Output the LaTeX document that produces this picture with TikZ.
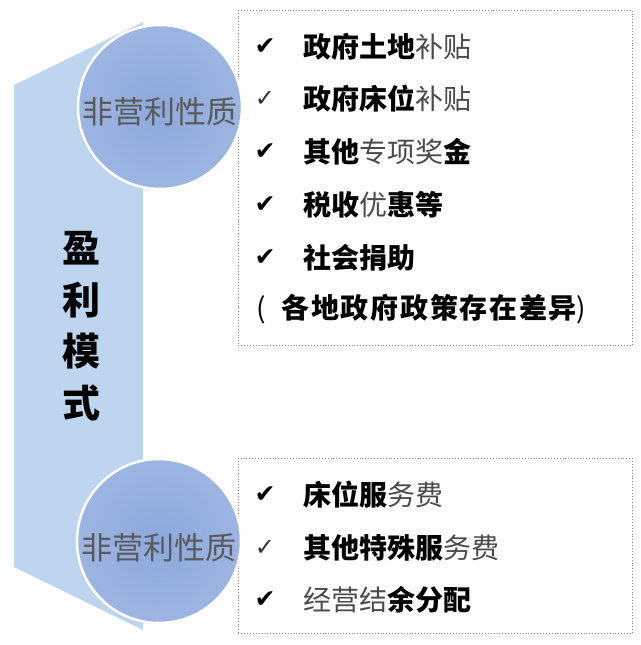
\documentclass[tikz,border=0pt]{standalone}
\usepackage{fontspec}
\newfontfamily\cjk{Noto Sans CJK SC}
\newfontfamily\sym{DejaVu Sans}
\definecolor{bandblue}{HTML}{BDD5EE}
\definecolor{ballblue}{HTML}{8CA8DB}
\definecolor{ballrim}{HTML}{9DB5E2}
\definecolor{ltext}{HTML}{5A5A5A}
\definecolor{itemgray}{HTML}{4A4A4A}
\newcommand\lite[1]{{\mdseries\color{itemgray}#1}}
\tikzset{
  band/.style={fill=bandblue},
  ball/.style={circle, minimum size=164pt, inner sep=0pt, draw=white, line width=2.5pt,
    inner color=ballblue, outer color=ballrim},
  balltext/.style={font=\cjk\fontsize{31}{31}\selectfont, text=ltext, inner sep=0pt},
  bigchar/.style={font=\cjk\bfseries\fontsize{38}{38}\selectfont, inner sep=0pt},
  dbox/.style={draw=gray, dotted, line width=0.9pt, anchor=north west, inner sep=0pt},
  chk/.style={font=\sym\fontsize{25}{25}\selectfont, inner sep=0pt},
  chkthin/.style={font=\sym\fontsize{24}{24}\selectfont, text=black!80, inner sep=0pt},
  item/.style={font=\cjk\bfseries\fontsize{28}{28}\selectfont, anchor=west, inner sep=0pt},
}
\begin{document}
\begin{tikzpicture}[x=1pt,y=-1pt]
\useasboundingbox (0,0) rectangle (640,645);
\fill[white] (0,0) rectangle (640,645);
% band
\fill[band] (14,85) -- (143,22) -- (143,630) -- (14,567) -- cycle;
% boxes
\node[dbox, minimum width=394pt, minimum height=335pt] (box1) at (238,10) {};
\node[dbox, minimum width=394pt, minimum height=175pt] (box2) at (238,458) {};
% balls
\node[ball] (ball1) at (160,107) {};
\node[ball] (ball2) at (159,541) {};
\node[balltext] (bt1) at (160,112) {非营利性质};
\node[balltext] (bt2) at (159,548) {非营利性质};
% vertical title
\node[bigchar] (m1) at (81,248) {盈};
\node[bigchar] (m2) at (81,300) {利};
\node[bigchar] (m3) at (81,351) {模};
\node[bigchar] (m4) at (81,403) {式};
% top items
\node[chk] (k1) at (265,47) {✔};
\node[chkthin] (k2) at (265,99) {✓};
\node[chk] (k3) at (265,152) {✔};
\node[chk] (k4) at (265,205) {✔};
\node[chk] (k5) at (265,258) {✔};
\node[item] (i1) at (303,47) {政府土地\lite{补贴}};
\node[item] (i2) at (303,99) {政府床位\lite{补贴}};
\node[item] (i3) at (303,152) {其他\lite{专项奖}金};
\node[item] (i4) at (303,205) {税收\lite{优}惠等};
\node[item] (i5) at (303,258) {社会捐助};
\node[item] (i6) at (256,309) {{\mdseries (}\hspace{16pt}{\addfontfeature{LetterSpace=6}各地政府政策存在差异}{\mdseries )}};
% bottom items
\node[chk] (k6) at (265,495) {✔};
\node[chkthin] (k7) at (265,548) {✓};
\node[chk] (k8) at (265,600) {✔};
\node[item] (j1) at (303,495) {床位服\lite{务费}};
\node[item] (j2) at (303,548) {其他特殊服\lite{务费}};
\node[item] (j3) at (303,600) {\lite{经营结}余分配};
\end{tikzpicture}
\end{document}
